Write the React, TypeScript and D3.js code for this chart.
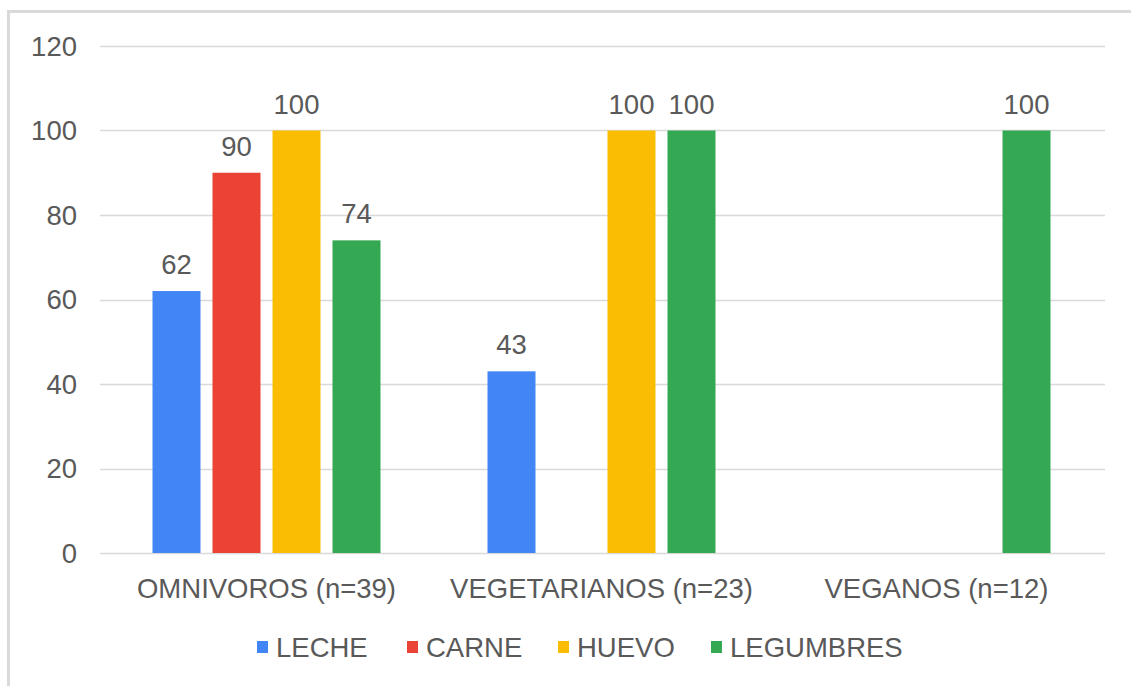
import React, { useEffect, useRef } from 'react';
import * as d3 from 'd3';

const categories = ['OMNIVOROS (n=39)', 'VEGETARIANOS (n=23)', 'VEGANOS (n=12)'];
const series = ['LECHE', 'CARNE', 'HUEVO', 'LEGUMBRES'];
const leche = [62, 43, 0];
const carne = [90, 0, 0];
const huevo = [100, 100, 0];
const legumbres = [74, 100, 100];
const yTicks = [0, 20, 40, 60, 80, 100, 120];
const colors = ['#4285F4', '#EA4335', '#FBBC04', '#34A853'];

const W = 1131;
const H = 686;

export default function App() {
  const ref = useRef<SVGSVGElement | null>(null);

  useEffect(() => {
    const svg = d3.select(ref.current);
    svg.selectAll('*').remove();
    const font = 'Liberation Sans, Arial, sans-serif';
    const textColor = '#595959';
    const fs = 27.5;

    // outer frame
    svg.append('rect')
      .attr('x', 8.5).attr('y', 11.5)
      .attr('width', W + 10).attr('height', H + 10)
      .attr('fill', 'none')
      .attr('stroke', '#d9d9d9')
      .attr('stroke-width', 3);

    const values = [leche, carne, huevo, legumbres];
    const data = categories.map((c, i) => ({
      cat: c,
      vals: series.map((s, j) => ({ key: s, value: values[j][i], color: colors[j] })),
    }));

    const x0 = d3.scaleBand().domain(categories).range([99, 1104]);
    const half = 120;
    const x1 = d3.scaleBand().domain(series)
      .range([x0.bandwidth() / 2 - half, x0.bandwidth() / 2 + half])
      .paddingInner(0.2).paddingOuter(0.1);
    const y = d3.scaleLinear().domain([0, 120]).range([553, 46]);

    // gridlines
    svg.append('g').selectAll('line')
      .data(yTicks)
      .enter().append('line')
      .attr('x1', 100).attr('x2', 1105)
      .attr('y1', d => Math.round(y(d)) + 0.5)
      .attr('y2', d => Math.round(y(d)) + 0.5)
      .attr('stroke', '#d9d9d9')
      .attr('stroke-width', 1.5);

    // y tick labels
    svg.append('g').selectAll('text')
      .data(yTicks)
      .enter().append('text')
      .attr('x', 77)
      .attr('y', d => y(d))
      .attr('dy', '0.36em')
      .attr('text-anchor', 'end')
      .attr('font-family', font)
      .attr('font-size', fs)
      .attr('fill', textColor)
      .text(d => d);

    const groups = svg.append('g').selectAll('g')
      .data(data)
      .enter().append('g')
      .attr('transform', d => `translate(${x0(d.cat)},0)`);

    const bars = groups.selectAll('g')
      .data(d => d.vals.filter(v => v.value > 0))
      .enter().append('g');

    bars.append('rect')
      .attr('x', d => x1(d.key)!)
      .attr('width', x1.bandwidth())
      .attr('y', d => y(d.value))
      .attr('height', d => y(0) - y(d.value))
      .attr('fill', d => d.color);

    bars.append('text')
      .attr('x', d => x1(d.key)! + x1.bandwidth() / 2)
      .attr('y', d => y(d.value) - 17)
      .attr('text-anchor', 'middle')
      .attr('font-family', font)
      .attr('font-size', fs)
      .attr('fill', textColor)
      .text(d => d.value);

    // category labels
    svg.append('g').selectAll('text')
      .data(categories)
      .enter().append('text')
      .attr('x', d => x0(d)! + x0.bandwidth() / 2)
      .attr('y', 598)
      .attr('text-anchor', 'middle')
      .attr('font-family', font)
      .attr('font-size', fs)
      .attr('fill', textColor)
      .text(d => d);

    // legend
    const legendX = [257, 407, 558, 711];
    const legend = svg.append('g').selectAll('g')
      .data(series)
      .enter().append('g')
      .attr('transform', (d, i) => `translate(${legendX[i]},0)`);
    legend.append('rect')
      .attr('x', 0).attr('y', 641)
      .attr('width', 11).attr('height', 12)
      .attr('fill', (d, i) => colors[i]);
    legend.append('text')
      .attr('x', 19).attr('y', 657)
      .attr('font-family', font)
      .attr('font-size', fs)
      .attr('fill', textColor)
      .text(d => d);
  }, []);

  return (
    <div style={{ position: 'absolute', left: 0, top: 0, width: W, height: H, background: '#fff' }}>
      <svg ref={ref} width={W} height={H} style={{ display: 'block' }} />
    </div>
  );
}
